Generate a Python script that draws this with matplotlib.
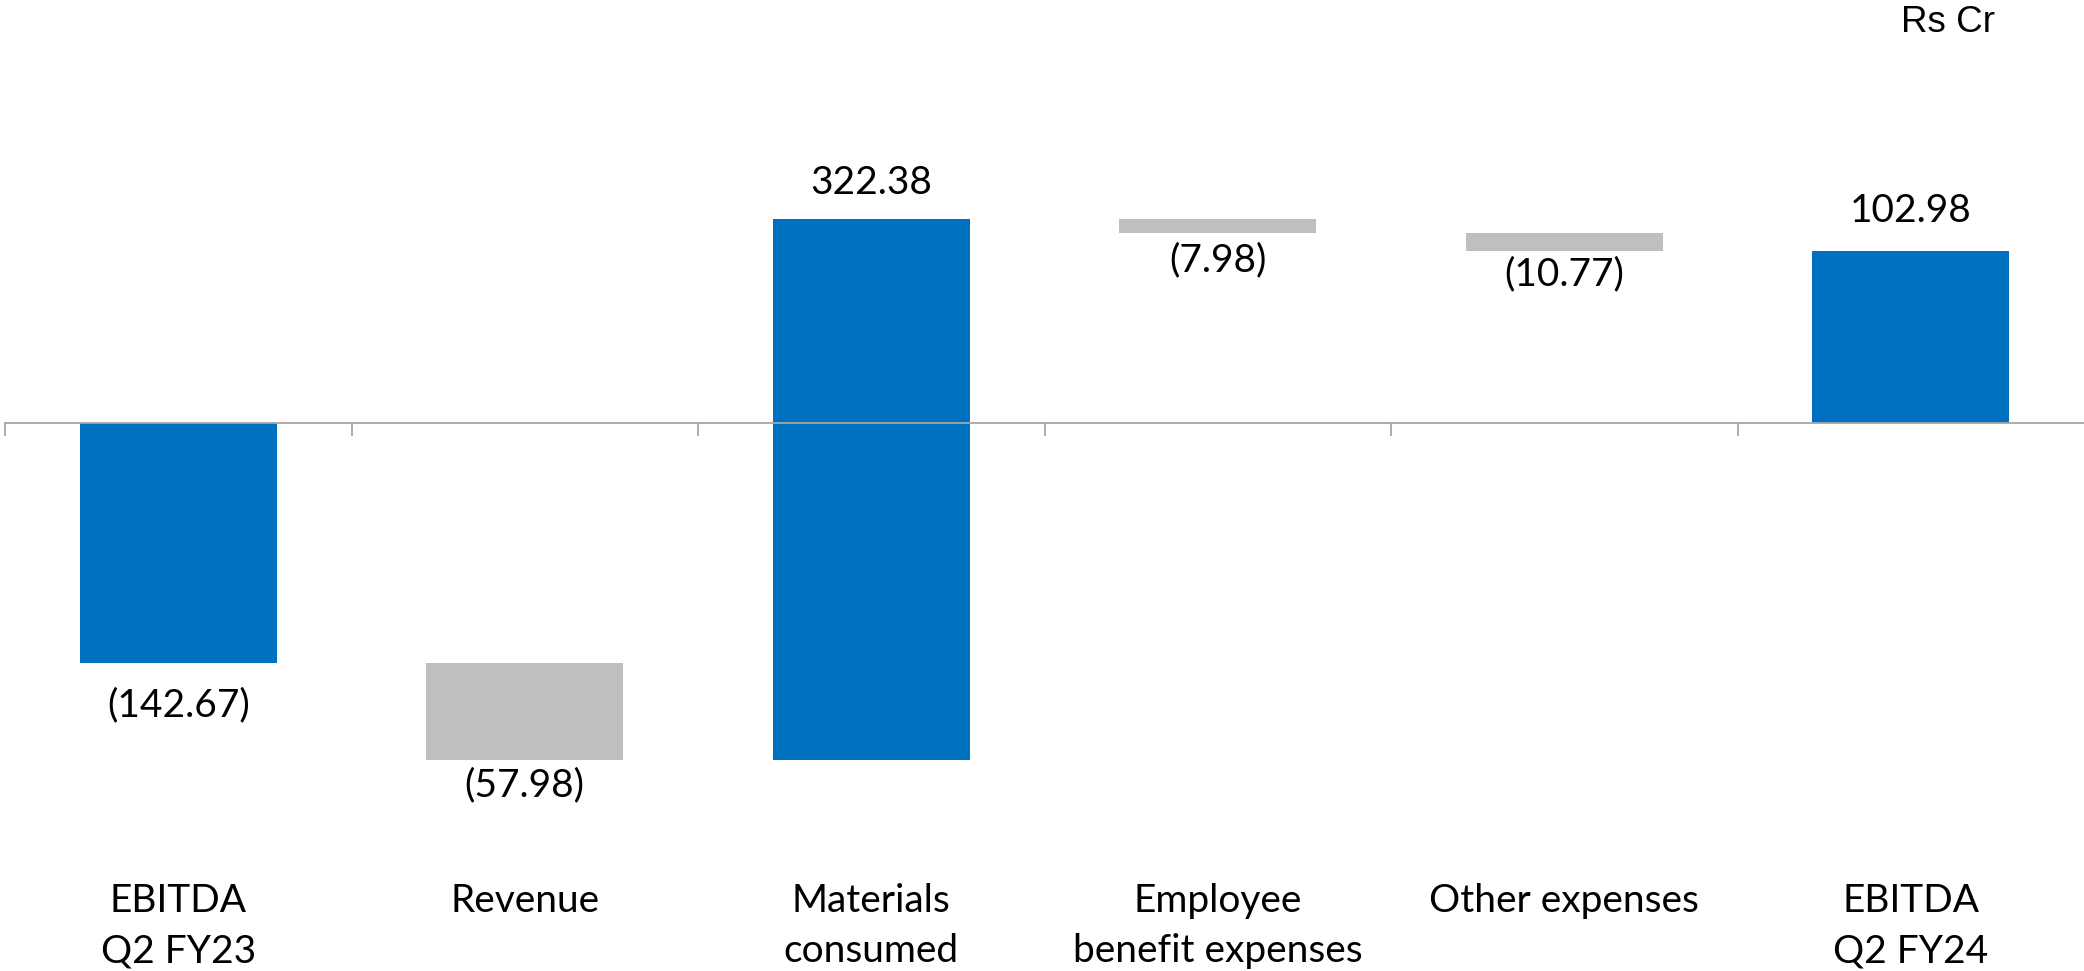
import matplotlib
matplotlib.use("Agg")
import matplotlib.pyplot as plt
from matplotlib.transforms import blended_transform_factory

# ---- data ----
categories = ["EBITDA\nQ2 FY23", "Revenue", "Materials\nconsumed",
              "Employee\nbenefit expenses", "Other expenses", "EBITDA\nQ2 FY24"]
values = [-142.67, -57.98, 322.38, -7.98, -10.77, 102.98]
value_labels = ["(142.67)", "(57.98)", "322.38", "(7.98)", "(10.77)", "102.98"]
kinds = ["total", "delta", "delta", "delta", "delta", "total"]
unit_label = "Rs Cr"

# ---- style ----
BLUE = "#0070C0"
GREY = "#BFBFBF"
AXIS = "#A6A6A6"
FONT = ["Lato", "DejaVu Sans"]
label_gap_px = [24, 7, 18, 10, 6, 22]

W, H, DPI = 2084, 971, 100
fig = plt.figure(figsize=(W / DPI, H / DPI), dpi=DPI)
ax = fig.add_axes([5 / W, 0, (W - 5) / W, 1])

# waterfall geometry
bottoms, heights, colors = [], [], []
running = 0.0
for v, k in zip(values, kinds):
    if k == "total":
        bottoms.append(0.0)
        heights.append(v)
        running = v
        colors.append(BLUE)
    else:
        bottoms.append(running)
        heights.append(v)
        running += v
        colors.append(GREY if v < 0 else BLUE)

x = list(range(len(categories)))
ax.bar(x, heights, bottom=bottoms, width=0.568, color=colors, edgecolor="none", zorder=2)

# scale: zero at 423.5 px from top, 1.679 px per unit
ppu = 1.679
zero_from_top = 423.5
ax.set_ylim(-(H - zero_from_top) / ppu, zero_from_top / ppu)
ax.set_xlim(-0.5, len(categories) - 0.5)

for s in ["left", "right", "top"]:
    ax.spines[s].set_visible(False)
ax.spines["bottom"].set_position(("data", 0))
ax.spines["bottom"].set_color(AXIS)
ax.spines["bottom"].set_linewidth(1.3)
ax.spines["bottom"].set_zorder(3)
ax.set_yticks([])
ax.set_xticks([i - 0.5 for i in range(len(categories))])
ax.set_xticklabels([])
ax.tick_params(axis="x", direction="out", length=13 * 72 / DPI, width=1.3, color=AXIS)
ax.set_facecolor("none")

# value labels
for i, (b, h, lab) in enumerate(zip(bottoms, heights, value_labels)):
    lo, hi = min(b, b + h), max(b, b + h)
    gap = label_gap_px[i]
    if h < 0:
        ax.annotate(lab, (i, lo), xytext=(0, -gap), textcoords="offset pixels",
                    ha="center", va="top", fontsize=28, family=FONT, color="black")
    else:
        ax.annotate(lab, (i, hi), xytext=(0, gap), textcoords="offset pixels",
                    ha="center", va="bottom", fontsize=28, family=FONT, color="black")

# category labels (below the chart)
trans = blended_transform_factory(ax.transData, ax.transAxes)
line_baseline_px = [912, 962]
for i, cat in enumerate(categories):
    for j, line in enumerate(cat.split("\n")):
        ax.text(i, 1 - line_baseline_px[j] / H, line, transform=trans, ha="center",
                va="baseline", fontsize=28, family=FONT, color="black")

fig.text(1901 / W, 1 - 32 / H, unit_label, ha="left", va="baseline",
         fontsize=26.5, family=["Liberation Sans", "DejaVu Sans"], color="black")

fig.savefig("out.png", dpi=DPI)
